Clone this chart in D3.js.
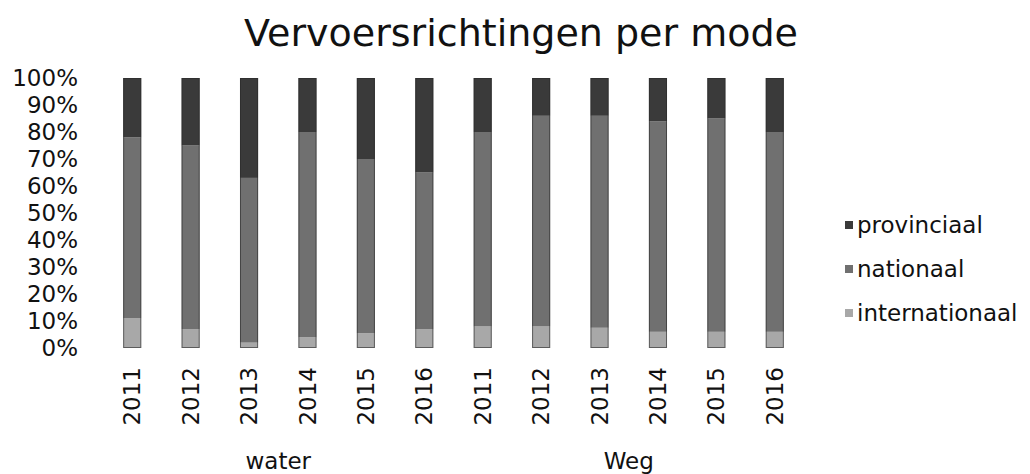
<!DOCTYPE html>
<html><head><meta charset="utf-8">
<script src="https://cdn.jsdelivr.net/npm/d3@7"></script>
<style>body{margin:0;background:#fff}svg{display:block}text{font-family:"DejaVu Sans",Verdana,sans-serif;fill:#111}</style>
</head><body>
<svg id="c" width="1030" height="474"></svg>
<script>
const groups = ["water", "Weg"];
const years = ["2011", "2012", "2013", "2014", "2015", "2016"];
const seriesNames = ["internationaal", "nationaal", "provinciaal"];
const internationaal = [11, 7, 2, 4, 5.5, 7, 8, 8, 7.5, 6, 6, 6];
const nationaal = [67, 68, 61, 76, 64.5, 58, 72, 78, 78.5, 78, 79, 74];
const provinciaal = [22, 25, 37, 20, 30, 35, 20, 14, 14, 16, 15, 20];
const yTicks = [0, 10, 20, 30, 40, 50, 60, 70, 80, 90, 100];
const colors = {internationaal: "#a8a8a8", nationaal: "#707070", provinciaal: "#3a3a3a"};

const keys = [];
groups.forEach(g => years.forEach(y => keys.push(g + "|" + y)));
const rows = keys.map((k, i) => ({key: k, group: k.split("|")[0], year: k.split("|")[1],
  internationaal: internationaal[i], nationaal: nationaal[i], provinciaal: provinciaal[i]}));

const svg = d3.select("#c");
const x = d3.scaleBand().domain(keys).range([103, 804]).paddingInner(0.69).paddingOuter(0.345);
const y = d3.scaleLinear().domain([0, 100]).range([348, 78]);

svg.append("text").attr("x", 521).attr("y", 46).attr("text-anchor", "middle")
  .style("font-size", "38px").text("Vervoersrichtingen per mode");

// y axis
const ya = svg.append("g").attr("transform", "translate(80,0)")
  .call(d3.axisLeft(y).tickValues(yTicks).tickFormat(d => d + "%").tickSize(0).tickPadding(2));
ya.select(".domain").remove();
ya.selectAll("text").style("font-size", "23px").style("font-family", '"DejaVu Sans",Verdana,sans-serif').attr("fill", "#111");

const stacked = d3.stack().keys(seriesNames)(rows);
svg.append("g").selectAll("g").data(stacked).join("g")
  .attr("fill", d => colors[d.key])
  .selectAll("rect").data(d => d).join("rect")
  .attr("x", d => x(d.data.key)).attr("width", x.bandwidth())
  .attr("y", d => y(d[1])).attr("height", d => y(d[0]) - y(d[1]));

// bar outlines (scan look)
svg.append("g").selectAll("rect").data(rows).join("rect")
  .attr("x", d => x(d.key) + 0.5).attr("width", x.bandwidth() - 1)
  .attr("y", y(100) + 0.5).attr("height", y(0) - y(100) - 1)
  .attr("fill", "none").attr("stroke", "#2a2a2a").attr("stroke-width", 1).attr("opacity", 0.6);

// x year labels
const xa = svg.append("g").attr("transform", "translate(0,348)")
  .call(d3.axisBottom(x).tickFormat(k => k.split("|")[1]).tickSize(0).tickPadding(0));
xa.select(".domain").remove();
xa.selectAll("text").style("font-size", "23px").style("font-family", '"DejaVu Sans",Verdana,sans-serif').attr("fill", "#111")
  .attr("transform", "rotate(-90)").attr("text-anchor", "end").attr("dy", "0.35em")
  .attr("x", -19).attr("y", 0);

// group labels
groups.forEach(g => {
  const ks = keys.filter(k => k.startsWith(g + "|"));
  const cx = (x(ks[0]) + x(ks[ks.length - 1]) + x.bandwidth()) / 2;
  svg.append("text").attr("x", cx).attr("y", 469).attr("text-anchor", "middle")
    .style("font-size", "23px").text(g);
});

// legend
const legendOrder = ["provinciaal", "nationaal", "internationaal"];
const lg = svg.append("g").selectAll("g").data(legendOrder).join("g")
  .attr("transform", (d, i) => `translate(845,${225 + i * 44})`);
lg.append("rect").attr("x", 0).attr("y", -4).attr("width", 8).attr("height", 8).attr("fill", d => colors[d]);
lg.append("text").attr("x", 12).attr("dy", "0.35em").style("font-size", "23px").text(d => d);
</script>
</body></html>
